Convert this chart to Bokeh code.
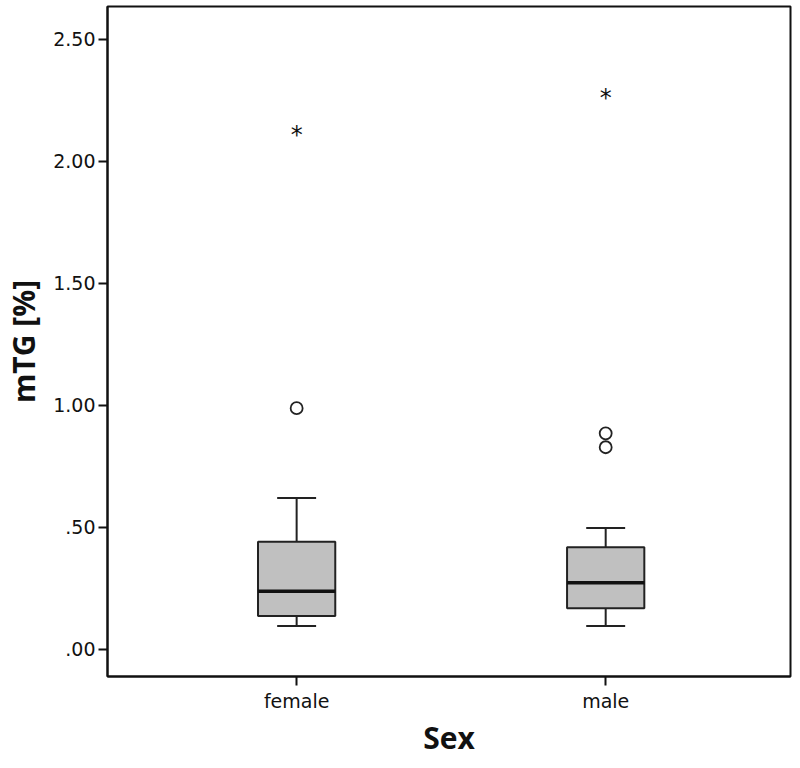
from bokeh.plotting import figure
from bokeh.models import Range1d, FixedTicker, ColumnDataSource
from bokeh.core.properties import value
from bokeh.embed import file_html
from bokeh.resources import INLINE

# ---- data ----
categories = ["female", "male"]
whisker_low = [0.095, 0.095]
q1 = [0.136, 0.168]
median = [0.238, 0.272]
q3 = [0.440, 0.418]
whisker_high = [0.620, 0.497]
outlier_cat = ["female", "male", "male"]
outlier_val = [0.988, 0.885, 0.828]
extreme_cat = ["female", "male"]
extreme_val = [2.123, 2.276]
y_ticks = [0.0, 0.5, 1.0, 1.5, 2.0, 2.5]
y_tick_labels = [".00", ".50", "1.00", "1.50", "2.00", "2.50"]

pos = {c: i + 1 for i, c in enumerate(categories)}
xs = [pos[c] for c in categories]
box_w = 0.25
cap_w = 0.126

p = figure(width=792, height=760, output_backend="svg", toolbar_location=None,
           x_range=Range1d(0.388, 2.598), y_range=Range1d(-0.112, 2.635),
           min_border_left=107, min_border_right=2, min_border_top=6, min_border_bottom=0)
p.background_fill_color = "white"
p.border_fill_color = "white"
p.outline_line_color = "#111111"
p.outline_line_width = 2
p.xgrid.visible = False
p.ygrid.visible = False

src = ColumnDataSource(dict(x=xs, lo=whisker_low, q1=q1, med=median, q3=q3, hi=whisker_high,
                            l=[x - box_w / 2 for x in xs], r=[x + box_w / 2 for x in xs],
                            cl=[x - cap_w / 2 for x in xs], cr=[x + cap_w / 2 for x in xs]))

# whisker stems
p.segment(x0="x", y0="q3", x1="x", y1="hi", source=src, line_color="#222222", line_width=2)
p.segment(x0="x", y0="lo", x1="x", y1="q1", source=src, line_color="#222222", line_width=2)
# caps
p.segment(x0="cl", y0="hi", x1="cr", y1="hi", source=src, line_color="#222222", line_width=2)
p.segment(x0="cl", y0="lo", x1="cr", y1="lo", source=src, line_color="#222222", line_width=2)
# boxes
p.quad(left="l", right="r", bottom="q1", top="q3", source=src,
       fill_color="#c0c0c0", line_color="#222222", line_width=2)
# median
p.segment(x0="l", y0="med", x1="r", y1="med", source=src, line_color="#111111", line_width=3.5)

# outliers
p.scatter(x=[pos[c] for c in outlier_cat], y=outlier_val, marker="circle", size=12,
          fill_color="white", line_color="#222222", line_width=1.8)
# extremes
p.text(x=[pos[c] for c in extreme_cat], y=extreme_val, text=["*"] * len(extreme_val),
       text_font=value("DejaVu Sans"), text_font_size="24px", text_align="center",
       text_baseline="middle", y_offset=4, x_offset=0, text_color="#111111")

# axes
p.yaxis.ticker = FixedTicker(ticks=y_ticks)
p.yaxis.major_label_overrides = {t: l for t, l in zip(y_ticks, y_tick_labels)}
p.xaxis.ticker = FixedTicker(ticks=xs)
p.xaxis.major_label_overrides = {x: c for x, c in zip(xs, categories)}

for ax in (p.xaxis[0], p.yaxis[0]):
    ax.axis_line_color = "#111111"
    ax.axis_line_width = 2
    ax.major_tick_line_color = "#111111"
    ax.major_tick_line_width = 2
    ax.major_tick_in = 0
    ax.major_tick_out = 9
    ax.minor_tick_line_color = None
    ax.major_label_text_font = "DejaVu Sans"
    ax.major_label_text_font_size = "19px"
    ax.major_label_text_color = "#111111"
    ax.axis_label_text_font = "Open Sans"
    ax.axis_label_text_font_style = "bold"
    ax.axis_label_text_font_size = "30px"
    ax.axis_label_text_color = "#111111"

p.xaxis.axis_label = "Sex"
p.yaxis.axis_label = "mTG [%]"
p.xaxis.major_label_standoff = 4
p.xaxis.axis_label_standoff = 2
p.yaxis.major_label_standoff = 3
p.yaxis.axis_label_standoff = 6

open("out.html", "w").write(file_html(p, INLINE))
